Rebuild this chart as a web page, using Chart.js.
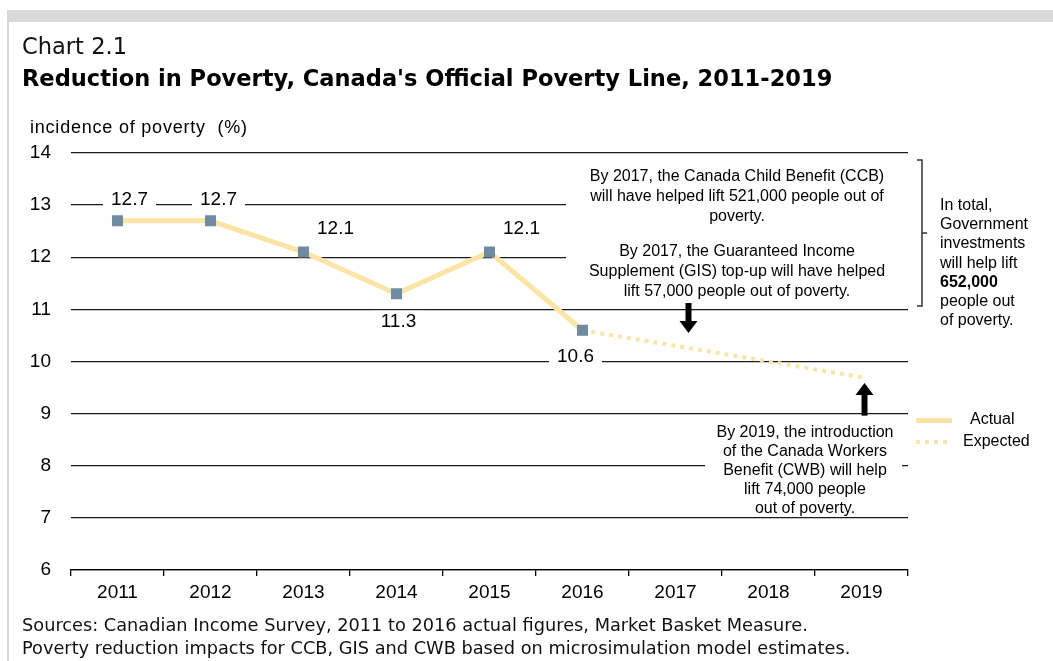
<!DOCTYPE html>
<html>
<head>
<meta charset="utf-8">
<script src="https://cdn.jsdelivr.net/npm/chart.js@4"></script>
<style>
  body { margin: 0; background: #fff; }
  #wrap { position: relative; width: 1053px; height: 661px; overflow: hidden; font-family: "Liberation Sans", Arial, sans-serif; color: #000; }
  #band { position: absolute; left: 7px; top: 10px; width: 1046px; height: 12px; background: #d9d9d9; }
  #edge { position: absolute; left: 7px; top: 22px; width: 2px; height: 639px; background: #d9d9d9; }
  canvas { position: absolute; left: 0; top: 0; }
  .txt { position: absolute; white-space: nowrap; }
  #chartNo { left: 22px; top: 33px; font-family: "DejaVu Sans", sans-serif; font-size: 21px; line-height: 26px; color: #111; }
  #title { left: 22px; top: 64px; font-family: "DejaVu Sans", sans-serif; font-weight: bold; font-size: 21px; line-height: 28px; }
  #yTitle { left: 30px; top: 116px; font-size: 18px; line-height: 22px; }
  .note { position: absolute; text-align: center; font-size: 16px; line-height: 20px; white-space: nowrap; }
  #noteCcb { left: 566px; top: 166px; width: 342px; }
  #noteGis { left: 566px; top: 241px; width: 342px; }
  #noteCwb { left: 705px; top: 422px; width: 200px; line-height: 19px; }
  #noteTotal { position: absolute; left: 940px; top: 195px; font-size: 16px; line-height: 19.2px; }
  .foot { position: absolute; left: 22px; font-family: "DejaVu Sans", sans-serif; font-size: 16px; line-height: 22px; white-space: nowrap; color: #111; }
  #legend { position: absolute; left: 916px; top: 409px; font-size: 16px; }
  .lgRow { position: relative; height: 22px; }
  .lgSolid { position: absolute; left: 0; top: 9px; width: 36px; height: 5px; background: #fce4a6; }
  .lgDot { position: absolute; left: 0; top: 9px; width: 36px; height: 4px;
           background: repeating-linear-gradient(90deg, #fce4a6 0 4px, transparent 4px 9px); }
  .lgText { position: absolute; top: 1px; }
</style>
</head>
<body>
<div id="wrap">
  <div id="band"></div>
  <div id="edge"></div>
  <canvas id="myChart" width="1053" height="661"></canvas>
  <div class="txt" id="chartNo">Chart 2.1</div>
  <div class="txt" id="title">Reduction in Poverty, Canada's Official Poverty Line, 2011-2019</div>
  <div class="txt" id="yTitle">incidence of poverty&nbsp; (%)</div>
  <div class="note" id="noteCcb">By 2017, the Canada Child Benefit (CCB)<br>will have helped lift 521,000 people out of<br>poverty.</div>
  <div class="note" id="noteGis">By 2017, the Guaranteed Income<br>Supplement (GIS) top-up will have helped<br>lift 57,000 people out of poverty.</div>
  <div class="note" id="noteCwb">By 2019, the introduction<br>of the Canada Workers<br>Benefit (CWB) will help<br>lift 74,000 people<br>out of poverty.</div>
  <div id="noteTotal">In total,<br>Government<br>investments<br>will help lift<br><b>652,000</b><br>people out<br>of poverty.</div>
  <div id="legend">
    <div class="lgRow"><div class="lgSolid"></div><div class="lgText" style="left:54px">Actual</div></div>
    <div class="lgRow"><div class="lgDot"></div><div class="lgText" style="left:47px">Expected</div></div>
  </div>
  <div class="foot" id="foot1" style="top:614px">Sources: Canadian Income Survey, 2011 to 2016 actual figures, Market Basket Measure.</div>
  <div class="foot" id="foot2" style="top:637px">Poverty reduction impacts for CCB, GIS and CWB based on microsimulation model estimates.</div>
</div>
<script>
// Chart data
let years = ["2011", "2012", "2013", "2014", "2015", "2016", "2017", "2018", "2019"];
let actual = [12.7, 12.7, 12.1, 11.3, 12.1, 10.6, null, null, null];
let expected = [null, null, null, null, null, 10.6, 10.3, 10.0, 9.7];
let actualLabels = ["12.7", "12.7", "12.1", "11.3", "12.1", "10.6"];

// where each value label sits relative to its point (px)
let labelOffsets = [[12, -21], [8, -21], [32, -23], [2, 28], [32, -23], [-7, 27]];

let lineColor = "#fce4a6";
let markerColor = "#6e8ba2";

// size the heading / footer text so each line spans the same width as the original
function fitFont(id, target) {
    let el = document.getElementById(id);
    let w = el.getBoundingClientRect().width;
    let fs = parseFloat(getComputedStyle(el).fontSize);
    el.style.fontSize = (fs * target / w) + "px";
}
function fitSpacing(id, target) {
    let el = document.getElementById(id);
    let w = el.getBoundingClientRect().width;
    let n = el.textContent.length - 1;
    el.style.letterSpacing = ((target - w) / n) + "px";
}
fitFont("chartNo", 105);
fitFont("title", 811);
fitSpacing("yTitle", 217);
fitFont("foot1", 786);
document.getElementById("foot2").style.fontSize = document.getElementById("foot1").style.fontSize;

// white boxes behind the notes, bracket and arrows
let notesPlugin = {
    id: "notes",
    beforeDatasetsDraw: function(chart) {
        let c = chart.ctx;
        c.save();
        c.fillStyle = "#fff";
        c.fillRect(566, 156, 345, 150);
        c.fillRect(705, 420, 197, 92);
        c.restore();
    },
    afterDatasetsDraw: function(chart) {
        let c = chart.ctx;
        let meta = chart.getDatasetMeta(0);
        c.save();
        c.font = "19px 'Liberation Sans', Arial, sans-serif";
        c.textAlign = "center";
        c.textBaseline = "middle";
        for (let i = 0; i < actualLabels.length; i++) {
            let pt = meta.data[i];
            let x = pt.x + labelOffsets[i][0];
            let y = pt.y + labelOffsets[i][1];
            let w = c.measureText(actualLabels[i]).width + 16;
            c.fillStyle = "#fff";
            c.fillRect(x - w / 2, y - 11, w, 22);
            c.fillStyle = "#000";
            c.fillText(actualLabels[i], x, y);
        }

        let xs = chart.scales.x;
        let ys = chart.scales.y;
        // down arrow under the 2017 notes
        let ax = xs.getPixelForValue(6) + 13;
        drawArrow(c, ax, 303, 333, 1);
        // up arrow under the 2019 point
        let bx = xs.getPixelForValue(8) + 3;
        drawArrow(c, bx, ys.getPixelForValue(9) + 2, 383, -1);

        // bracket on the right
        c.strokeStyle = "#333";
        c.lineWidth = 1.5;
        c.beginPath();
        c.moveTo(917, 160);
        c.lineTo(922, 160);
        c.lineTo(922, 306);
        c.lineTo(917, 306);
        c.moveTo(922, 233);
        c.lineTo(927, 233);
        c.stroke();
        c.restore();
    }
};

function drawArrow(c, x, y0, y1, dir) {
    // dir 1 points down (tip at y1), -1 points up (tip at y1)
    let head = 12;
    c.fillStyle = "#000";
    let shaftEnd = y1 - dir * head;
    c.fillRect(x - 3, Math.min(y0, shaftEnd), 6, Math.abs(shaftEnd - y0));
    c.beginPath();
    c.moveTo(x - 9, shaftEnd);
    c.lineTo(x + 9, shaftEnd);
    c.lineTo(x, y1);
    c.closePath();
    c.fill();
}

let ctx = document.getElementById("myChart").getContext("2d");
let myChart = new Chart(ctx, {
    type: "line",
    data: {
        labels: years,
        datasets: [{
            label: "Actual",
            data: actual,
            borderColor: lineColor,
            borderWidth: 5,
            pointStyle: "rect",
            pointRadius: 7.8,
            pointHoverRadius: 7.8,
            pointBackgroundColor: markerColor,
            pointBorderWidth: 0,
            tension: 0
        }, {
            label: "Expected",
            data: expected,
            borderColor: lineColor,
            borderWidth: 4,
            borderDash: [4, 5],
            pointRadius: 0,
            tension: 0
        }]
    },
    options: {
        responsive: false,
        animation: false,
        events: [],
        layout: { padding: { left: 0, right: 145, top: 153, bottom: 51 } },
        plugins: {
            legend: { display: false },
            tooltip: { enabled: false }
        },
        scales: {
            x: {
                offset: true,
                afterFit: function(scale) { scale.height = 40; },
                grid: { display: true, drawOnChartArea: false, drawTicks: true, tickLength: 6, color: "#000", offset: true, lineWidth: 1.3 },
                border: { display: true, color: "#000", width: 1.3 },
                ticks: { color: "#000", padding: 5, font: { family: "'Liberation Sans', Arial, sans-serif", size: 19 } }
            },
            y: {
                min: 6,
                max: 14,
                afterFit: function(scale) { scale.width = 71; },
                grid: { color: "#1a1a1a", lineWidth: 1.3, drawTicks: false },
                border: { display: false },
                ticks: { stepSize: 1, color: "#000", padding: 20, font: { family: "'Liberation Sans', Arial, sans-serif", size: 19 } }
            }
        }
    },
    plugins: [notesPlugin]
});
</script>
</body>
</html>
